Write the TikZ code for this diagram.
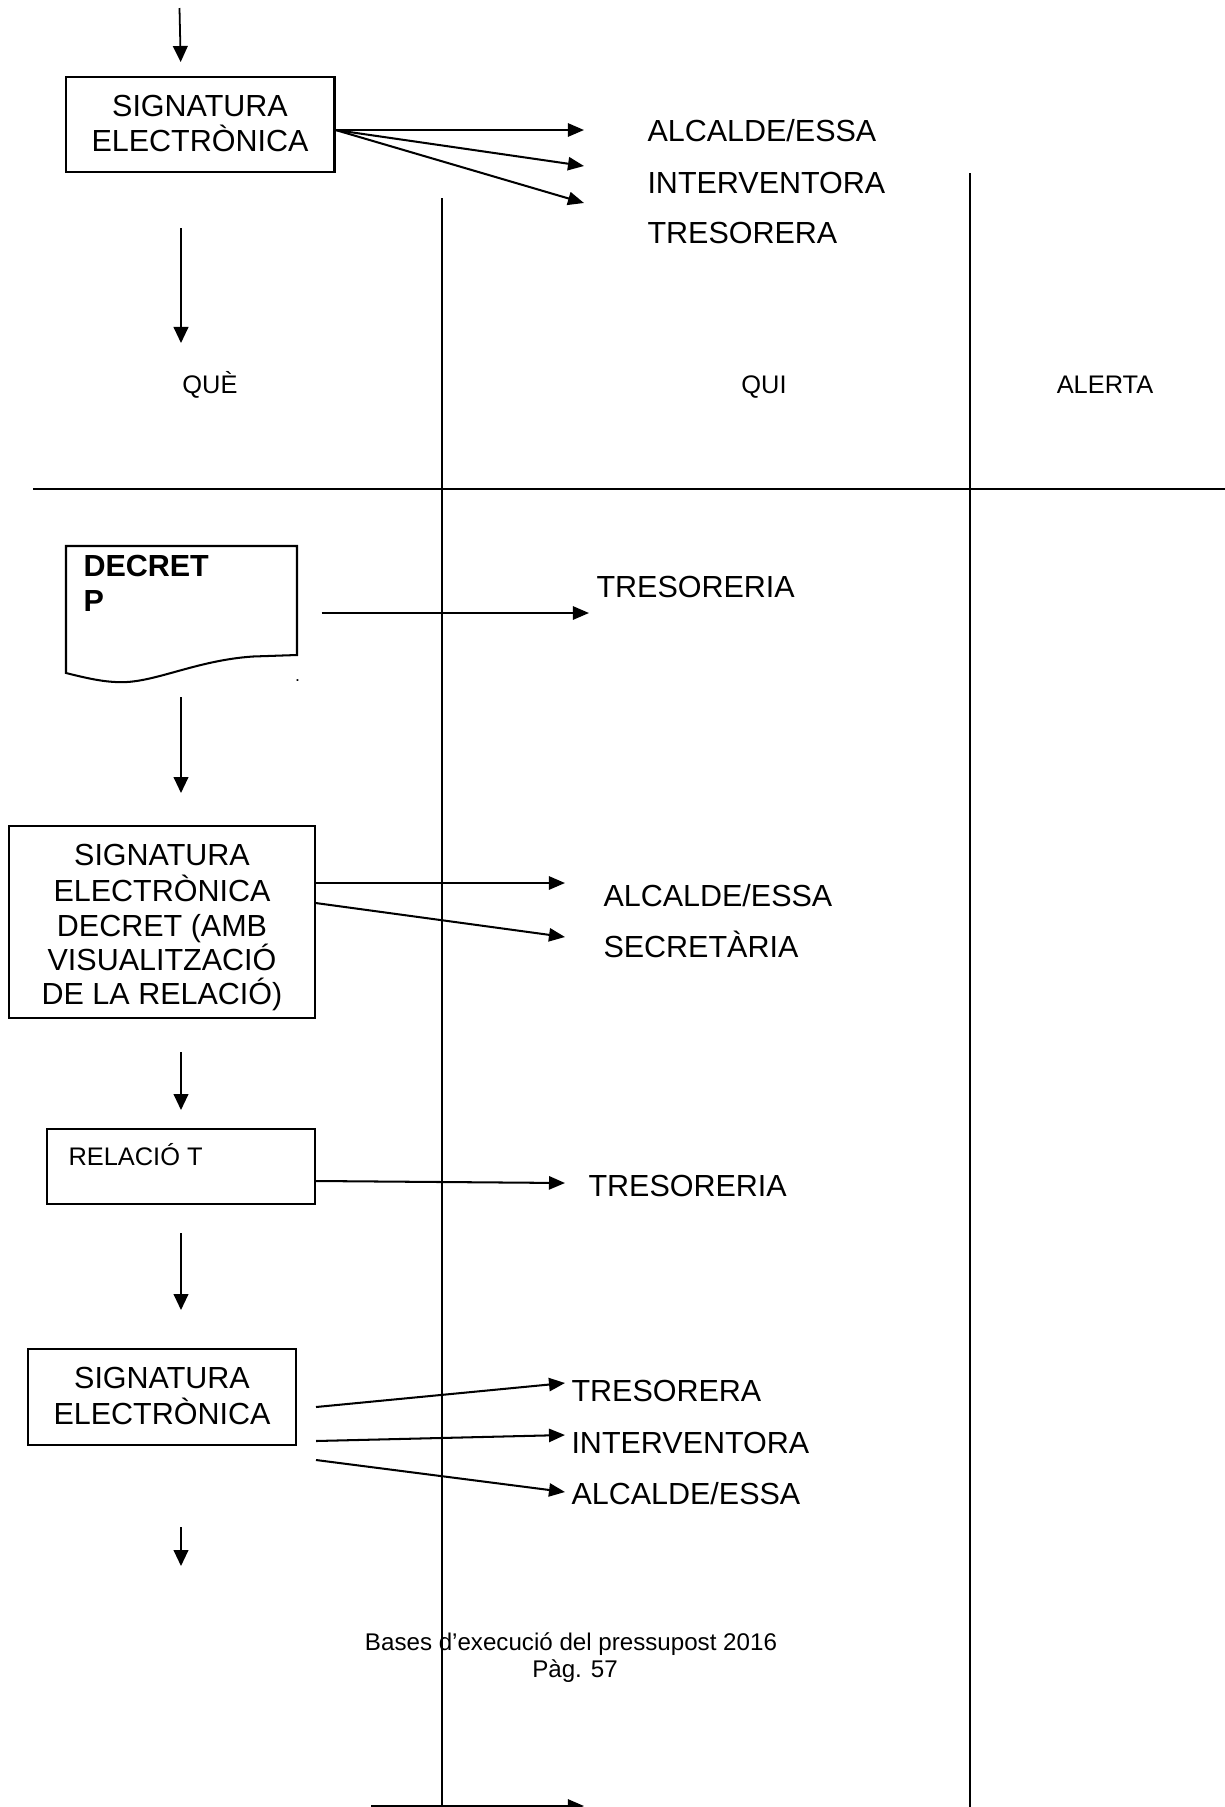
\documentclass[tikz,border=0pt]{standalone}
\usepackage{fontspec}
\setmainfont{Liberation Sans}
\usetikzlibrary{arrows.meta,calc}
\begin{document}
\begin{tikzpicture}[x=0.3935pt,y=-0.3935pt,
  boxnode/.style={draw,line width=0.8pt,inner sep=0pt},
  txt/.style={anchor=base,inner sep=0pt,font=\fontsize{12}{14}\selectfont},
  lbl/.style={anchor=base west,inner sep=0pt,font=\fontsize{12}{14}\selectfont},
  hdr/.style={anchor=base,inner sep=0pt,font=\fontsize{10}{12}\selectfont},
  foot/.style={anchor=base,inner sep=0pt,font=\fontsize{9.5}{11}\selectfont},
  arr/.style={-{Triangle[length=6.3pt,width=5.2pt]},line width=0.8pt},
  varr/.style={-{Triangle[length=6.3pt,width=5.8pt]},line width=0.7pt},
  sepline/.style={line width=0.8pt}]
\useasboundingbox (0,0) rectangle (1225,1807);

% column separators and header line
\coordinate (v1t) at (442,198);
\coordinate (v1b) at (442,1807);
\coordinate (v2t) at (970,173);
\coordinate (v2b) at (970,1807);
\coordinate (hl) at (33,489);
\coordinate (hr) at (1225,489);
\draw[sepline] (v1t) -- (v1b);
\draw[sepline] (v2t) -- (v2b);
\draw[line width=1pt] (hl) -- (hr);

% header labels
\node[hdr] (que) at (210,393) {QUÈ};
\node[hdr] (qui) at (764,393) {QUI};
\node[hdr] (alerta) at (1105,393) {ALERTA};

% ---- stage 1
\coordinate (a0s) at (179.5,8);
\coordinate (a0e) at (180.7,62);
\draw[varr] (a0s) -- (a0e);
\node[boxnode,minimum width=105.66pt,minimum height=37.38pt] (b1) at (200.25,124.5) {};
\node[txt] (b1l1) at (200,116.7) {SIGNATURA};
\node[txt] (b1l2) at (200,151.7) {ELECTRÒNICA};
\node[lbl] (r1a) at (647,141.7) {ALCALDE/ESSA};
\node[lbl] (r1b) at (647,193.3) {INTERVENTORA};
\node[lbl] (r1c) at (647,243.3) {TRESORERA};
\coordinate (t1a) at (584,130);
\coordinate (t1b) at (584,166);
\coordinate (t1c) at (584,203);
\draw[arr] ($(b1.east)+(0,5.5)$) -- (t1a);
\draw[arr] ($(b1.east)+(0,5.5)$) -- (t1b);
\draw[arr] ($(b1.east)+(0,5.5)$) -- (t1c);
\coordinate (a1s) at (181,228);
\coordinate (a1e) at (181,343);
\draw[varr] (a1s) -- (a1e);

% ---- document shape
\node[inner sep=0pt,minimum width=90.9pt,minimum height=53.1pt] (doc) at (181.5,614.5) {};
\draw[line width=0.8pt] (66,673) .. controls (90,679) and (108,683) .. (127,682)
  .. controls (160,680) and (200,660) .. (253,656.5) -- (297,655) -- (297,546) -- (66,546) -- cycle;
\node[lbl,font=\fontsize{12}{14}\selectfont\bfseries] (d1) at (83,576.7) {DECRET};
\node[lbl,font=\fontsize{12}{14}\selectfont\bfseries] (d2) at (83,611.7) {P};
\node[inner sep=0pt,font=\fontsize{7}{8}\selectfont] (dot) at (297.5,681) {.};
\node[lbl] (r2) at (596,597) {TRESORERIA};
\coordinate (t2) at (589,613);
\draw[arr] ($(doc.east)+(24,-1.5)$) -- (t2);
\coordinate (a2s) at (181,697);
\coordinate (a2e) at (181,793);
\draw[varr] (a2s) -- (a2e);

% ---- stage 3
\node[boxnode,minimum width=120.41pt,minimum height=75.55pt] (b3) at (161.6,922) {};
\node[txt] (b3l1) at (162,865) {SIGNATURA};
\node[txt] (b3l2) at (162,901.7) {ELECTRÒNICA};
\node[txt] (b3l3) at (162,936) {DECRET (AMB};
\node[txt] (b3l4) at (162,970.5) {VISUALITZACIÓ};
\node[txt] (b3l5) at (162,1004.5) {DE LA RELACIÓ)};
\node[lbl] (r3a) at (603,906) {ALCALDE/ESSA};
\node[lbl] (r3b) at (603,957.3) {SECRETÀRIA};
\coordinate (t3a) at (565,883);
\coordinate (t3b) at (565,937);
\draw[arr] ($(b3.east)+(0,-39)$) -- (t3a);
\draw[arr] ($(b3.east)+(0,-19)$) -- (t3b);
\coordinate (a3s) at (181,1052);
\coordinate (a3e) at (181,1110);
\draw[varr] (a3s) -- (a3e);

% ---- stage 4
\node[boxnode,minimum width=105.46pt,minimum height=29.51pt] (b4) at (181,1166.5) {};
\node[lbl,font=\fontsize{10}{12}\selectfont] (b4l) at (68,1165.7) {RELACIÓ T};
\node[lbl] (r4) at (588,1196.7) {TRESORERIA};
\coordinate (t4) at (565,1183);
\draw[arr] ($(b4.east)+(0,14.5)$) -- (t4);
\coordinate (a4s) at (181,1233);
\coordinate (a4e) at (181,1310);
\draw[varr] (a4s) -- (a4e);

% ---- stage 5
\node[boxnode,minimum width=105.46pt,minimum height=37.78pt] (b5) at (161.6,1397) {};
\node[txt] (b5l1) at (162,1388.3) {SIGNATURA};
\node[txt] (b5l2) at (162,1424) {ELECTRÒNICA};
\node[lbl] (r5a) at (571,1401.7) {TRESORERA};
\node[lbl] (r5b) at (571,1453.3) {INTERVENTORA};
\node[lbl] (r5c) at (571,1504) {ALCALDE/ESSA};
\coordinate (t5a) at (565,1383);
\coordinate (t5b) at (565,1435);
\coordinate (t5c) at (565,1492);
\draw[arr] ($(b5.east)+(19.4,10)$) -- (t5a);
\draw[arr] ($(b5.east)+(19.4,44)$) -- (t5b);
\draw[arr] ($(b5.east)+(19.4,63)$) -- (t5c);
\coordinate (a5s) at (181,1527);
\coordinate (a5e) at (181,1566);
\draw[varr] (a5s) -- (a5e);

% ---- footer
\node[foot] (f1) at (571,1650) {Bases d’execució del pressupost 2016};
\node[foot] (f2) at (575,1677) {Pàg. 57};

% ---- bottom arrow (cut by page edge)
\coordinate (a6s) at (371,1806);
\coordinate (a6e) at (584,1806);
\draw[arr] (a6s) -- (a6e);
\end{tikzpicture}
\end{document}
